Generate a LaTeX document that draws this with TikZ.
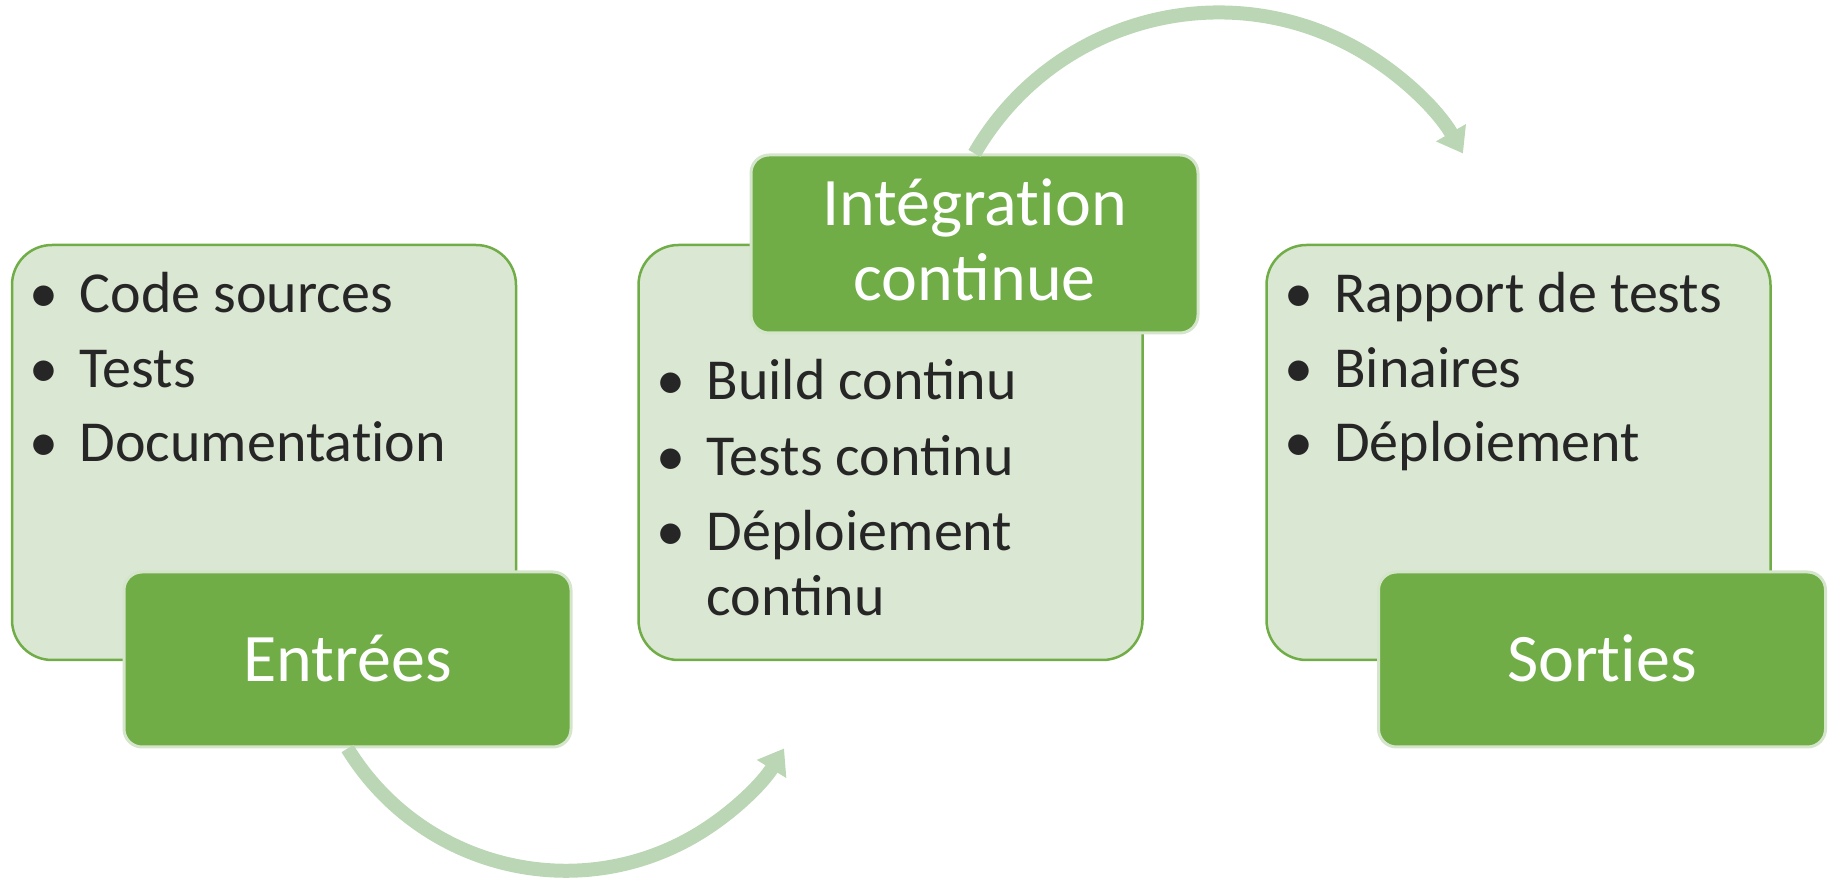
\documentclass[tikz,border=0pt]{standalone}
\usepackage{fontspec}
\setmainfont{Carlito}
\usetikzlibrary{arrows.meta}

\definecolor{vert}{RGB}{112,173,71}
\definecolor{vertclair}{RGB}{218,231,210}
\definecolor{vertpale}{RGB}{213,229,203}
\definecolor{vertfleche}{RGB}{187,214,180}
\definecolor{gristexte}{RGB}{38,38,38}

\begin{document}
\begin{tikzpicture}[
    x=1pt, y=1pt,
    liste/.style={rectangle,rounded corners=40pt,draw=vert,line width=2.5pt,fill=vertclair,
        minimum width=504pt,minimum height=415pt,inner sep=0pt},
    titre/.style={rectangle,rounded corners=18pt,draw=vertpale,line width=3pt,fill=vert,text=white,
        minimum width=447pt,minimum height=175pt,inner sep=0pt,
        font=\fontsize{68}{75}\selectfont,text height=44pt,text depth=0pt},
    puce/.style={anchor=base west,inner sep=0pt,text=gristexte,font=\fontsize{58}{70}\selectfont},
    fleche/.style={line width=14pt,draw=vertfleche,-{Triangle[length=24pt,width=33pt]}}
]
\useasboundingbox (0,0) rectangle (1831,880);

% Boxes
\node[liste] (lentrees) at (264,427.5) {};
\node[liste] (lci) at (890.5,427.5) {};
\node[liste] (lsorties) at (1518.5,427.5) {};

% Titles (\kern0pt keeps "t" and "i" apart)
\node[titre] (entrees) at (347.5,220.5) {Entrées};
\node[titre] (sorties) at (1602,220.5) {Sort\kern0pt ies};
\node[titre,minimum height=178pt,text height=52.5pt,text depth=88.5pt] (integration) at (974.5,636)
    {\begin{tabular}[t]{@{}c@{}}Intégrat\kern0pt ion\\continue\end{tabular}};

% Inputs
\node[puce] (e1) at (29.5,567) {\makebox[50pt][l]{\textbullet}Code sources};
\node[puce] (e2) at (29.5,492) {\makebox[50pt][l]{\textbullet}Tests};
\node[puce] (e3) at (29.5,418) {\makebox[50pt][l]{\textbullet}Documentat\kern0pt ion};

% Continuous integration
\node[puce] (c1) at (656.5,480) {\makebox[50pt][l]{\textbullet}Build continu};
\node[puce] (c2) at (656.5,404) {\makebox[50pt][l]{\textbullet}Tests continu};
\node[puce] (c3) at (656.5,329) {\makebox[50pt][l]{\textbullet}Déploiement};
\node[puce] (c4) at (706.5,264) {continu};

% Outputs
\node[puce] (s1) at (1284,567) {\makebox[50pt][l]{\textbullet}Rapport de tests};
\node[puce] (s2) at (1284,492) {\makebox[50pt][l]{\textbullet}Binaires};
\node[puce] (s3) at (1284,418) {\makebox[50pt][l]{\textbullet}Déploiement};

% Flow
\draw[fleche] (entrees.south) arc[start angle=211.5,end angle=328.5,radius=256pt];
\draw[fleche] (integration.north) arc[start angle=150,end angle=30,radius=282pt];

\end{tikzpicture}
\end{document}
